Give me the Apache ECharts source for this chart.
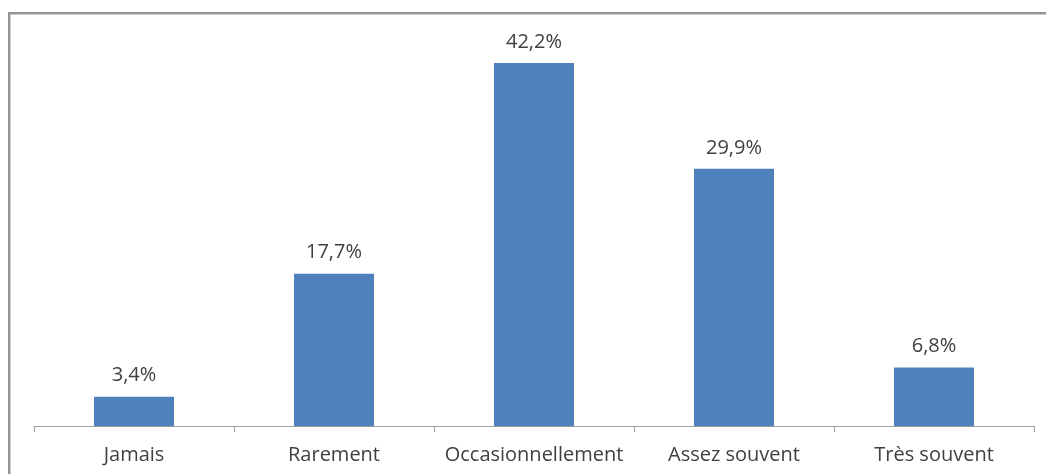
<!DOCTYPE html>
<html><head><meta charset="utf-8">
<script src="https://cdn.jsdelivr.net/npm/echarts@6/dist/echarts.min.js"></script>
<style>html,body{margin:0;padding:0;background:#fff}#c{width:1046px;height:474px}</style>
</head><body><div id="c"></div>
<script>
const categories = ["Jamais", "Rarement", "Occasionnellement", "Assez souvent", "Très souvent"];
const values = [3.4, 17.7, 42.2, 29.9, 6.8];
const chart = echarts.init(document.getElementById('c'));
chart.setOption({
  animation: false,
  backgroundColor: '#fff',
  graphic: [
    {type: 'rect', shape: {x: 9.5, y: 13.5, width: 1100, height: 600}, style: {fill: 'none', stroke: '#d0d0d0', lineWidth: 3}},
    {type: 'rect', shape: {x: 9, y: 13, width: 1100, height: 600}, style: {fill: 'none', stroke: '#7f7f7f', lineWidth: 1.5}}
  ],
  grid: {left: 34, right: 12, top: 39, bottom: 48},
  xAxis: {
    type: 'category', data: categories,
    axisLine: {lineStyle: {color: '#a0a0a0', width: 1}},
    axisTick: {show: true, interval: 0, alignWithLabel: false, length: 6, lineStyle: {color: '#a0a0a0'}},
    axisLabel: {interval: 0, color: '#404040', fontSize: 20, fontFamily: 'Open Sans, sans-serif', margin: 19}
  },
  yAxis: {type: 'value', min: 0, max: 45, show: false, splitLine: {show: false}},
  series: [{
    type: 'bar', data: values, barWidth: 80,
    itemStyle: {color: '#4f81bd'},
    label: {show: true, position: 'top', distance: 11, color: '#404040', fontSize: 20,
      fontFamily: 'Open Sans, sans-serif',
      formatter: p => p.value.toFixed(1).replace('.', ',') + '%'}
  }]
});
</script></body></html>
